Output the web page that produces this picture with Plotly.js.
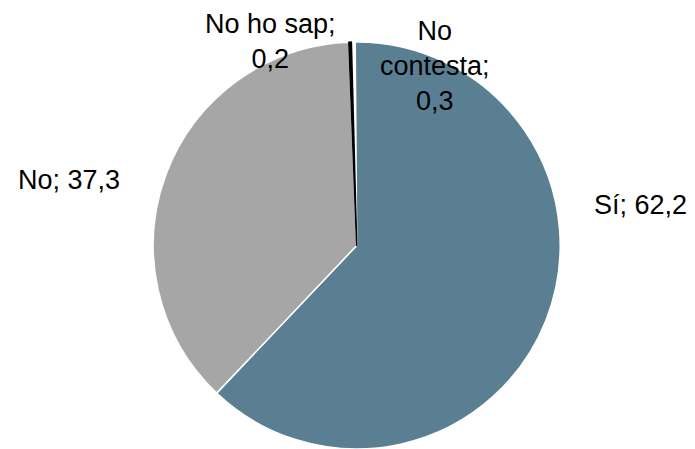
<!DOCTYPE html>
<html>
<head>
<meta charset="utf-8">
<script src="https://cdn.plot.ly/plotly-3.0.1.min.js"></script>
<style>html,body{margin:0;padding:0;background:#fff;}#chart{width:695px;height:449px;}</style>
</head>
<body>
<div id="chart"></div>
<script>
const categories = ["No contesta", "Sí", "No", "No ho sap"];
const values = [0.3, 62.2, 37.3, 0.2];
const labelTexts = ["No<br>contesta;<br>0,3", "Sí; 62,2", "No; 37,3", "No ho sap;<br>0,2"];
const colors = ["#FFFFFF", "#5B7F92", "#A6A6A6", "#000000"];
const lineColors = ["#FFFFFF", "#FFFFFF", "#FFFFFF", "#000000"];
const labelPos = [[435, 66], [640, 205], [69, 180], [270, 41]];

const W = 695, H = 449;
const trace = {
  type: "pie",
  labels: categories,
  values: values,
  sort: false,
  direction: "clockwise",
  rotation: -1.5,
  textinfo: "none",
  hoverinfo: "label+value",
  marker: {colors: colors, line: {color: lineColors, width: 1.5}},
  domain: {x: [152.7/W, 560.7/W], y: [0, 1 - 42/H]},
  showlegend: false
};
const annotations = categories.map((c, i) => ({
  text: labelTexts[i],
  xref: "paper", yref: "paper",
  x: labelPos[i][0] / W, y: 1 - labelPos[i][1] / H,
  xanchor: "center", yanchor: "middle",
  align: "center",
  showarrow: false,
  font: {family: "Liberation Sans, Arial, sans-serif", size: 27, color: "#000000"}
}));
Plotly.newPlot("chart", [trace], {
  width: W, height: H,
  margin: {l: 0, r: 0, t: 0, b: 0},
  paper_bgcolor: "#FFFFFF",
  annotations: annotations
}, {displayModeBar: false, staticPlot: true});
</script>
</body>
</html>
